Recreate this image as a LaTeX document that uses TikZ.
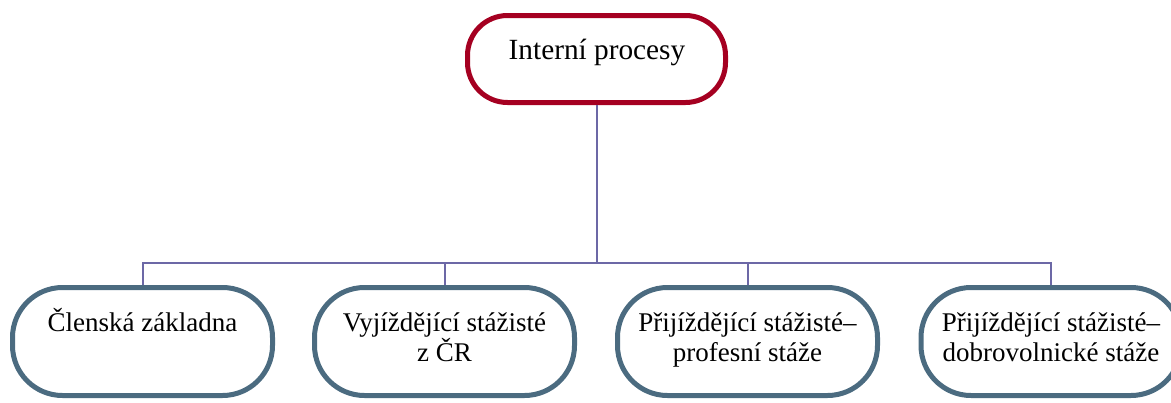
\documentclass[tikz,border=0pt]{standalone}
\usepackage{fontspec}
\setmainfont{Liberation Serif}
\definecolor{rootred}{HTML}{A50021}
\definecolor{leafblue}{HTML}{4B6B80}
\definecolor{treeline}{HTML}{6C68A6}
\tikzset{
  rootbox/.style={draw=rootred, line width=5pt, rounded corners=40pt, minimum width=258pt, minimum height=87pt},
  leafbox/.style={draw=leafblue, line width=5pt, rounded corners=50pt, minimum width=260pt, minimum height=108pt},
  boxtext/.style={align=center, anchor=base, inner sep=0pt, font=\fontsize{27}{30}\selectfont},
  branch/.style={draw=treeline, line width=2pt}
}
\begin{document}
\begin{tikzpicture}[x=1pt, y=-1pt] %strom internich procesu
        \useasboundingbox (0,0) rectangle (1171,402);
        \clip (0,0) rectangle (1171,402);

        \node[rootbox] (root) at (596.5,59) {};
        \node[leafbox] (clen) at (142.5,341.5) {};
        \node[leafbox] (vyj) at (444.5,341.5) {};
        \node[leafbox] (prof) at (747.5,341.5) {};
        \node[leafbox] (dobr) at (1051,341.5) {};

        % base = posledni radek
        \node[boxtext, font=\fontsize{29.3}{30}\selectfont] (roottext) at (597,59) {Interní procesy};
        \node[boxtext] (clentext) at (142.5,331) {Členská základna};
        \node[boxtext] (vyjtext) at (444.5,361) {Vyjíždějící stážisté\\z ČR};
        \node[boxtext] (proftext) at (747.5,361) {Přijíždějící stážisté–\\profesní stáže};
        \node[boxtext] (dobrtext) at (1051,361) {Přijíždějící stážisté–\\dobrovolnické stáže};

        \coordinate (hub) at (596.5,263);
        \draw[branch] (root.south) -- (hub);
        \foreach \leaf in {clen,vyj,prof,dobr}
            \draw[branch] (hub) -| (\leaf.north);
    \end{tikzpicture}
\end{document}
